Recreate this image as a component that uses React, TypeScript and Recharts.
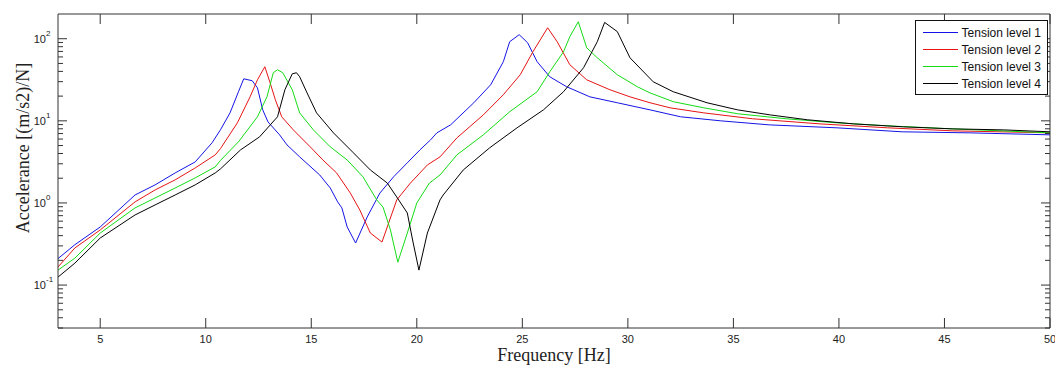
import { LineChart, Line, XAxis, YAxis, Legend, Label } from 'recharts'

const freqTicks = [5, 10, 15, 20, 25, 30, 35, 40, 45, 50]
const accelTicks = [
  0.03, 0.04, 0.05, 0.06, 0.07, 0.08, 0.09, 0.1,
  0.2, 0.3, 0.4, 0.5, 0.6, 0.7, 0.8, 0.9, 1,
  2, 3, 4, 5, 6, 7, 8, 9, 10,
  20, 30, 40, 50, 60, 70, 80, 90, 100,
]

const seriesNames = ['Tension level 1', 'Tension level 2', 'Tension level 3', 'Tension level 4']
const seriesColors = ['#1414e6', '#e61414', '#14dc14', '#000000']

// tension level 1
const freq1 = [3.0, 3.8, 5.0, 6.65, 7.6, 8.55, 9.5, 10.3, 10.7, 11.15, 11.55, 11.8, 12.2, 12.45, 12.7, 12.95, 13.5, 13.85, 14.45, 15.4, 15.9, 16.25, 16.45, 16.7, 17.1, 17.65, 18.25, 18.9, 19.55, 20.15, 20.65, 20.95, 21.6, 22.7, 23.5, 24.1, 24.4, 24.85, 25.25, 25.7, 26.3, 27.1, 28.2, 29.5, 31.05, 32.5, 34.4, 36.7, 39.9, 43.0, 46.2, 50]
const accel1 = [0.21, 0.31, 0.51, 1.25, 1.66, 2.32, 3.16, 5.4, 7.8, 12.5, 22.6, 32.5, 30.8, 25.2, 13.6, 9.7, 6.74, 5.09, 3.64, 2.19, 1.52, 1.03, 0.87, 0.51, 0.325, 0.675, 1.32, 2.08, 3.08, 4.43, 5.86, 7.14, 8.93, 16.6, 27.5, 52.5, 91.9, 112, 89.3, 52.5, 34.4, 26.0, 19.6, 16.6, 13.6, 11.2, 10.0, 8.93, 8.22, 7.35, 7.14, 6.75]

// tension level 2
const freq2 = [3.0, 3.8, 5.0, 6.65, 7.6, 8.55, 9.5, 10.45, 10.7, 11.5, 12.1, 12.45, 12.8, 13.05, 13.3, 13.6, 14.15, 14.95, 15.55, 16.2, 16.85, 17.3, 17.8, 18.35, 18.6, 19.05, 19.7, 20.5, 21.1, 21.9, 23.15, 24.1, 24.9, 25.5, 26.2, 26.65, 27.25, 28.05, 29.15, 30.1, 31.05, 32.0, 33.6, 35.9, 39.1, 42.3, 45.4, 50]
const accel2 = [0.166, 0.283, 0.469, 1.03, 1.44, 1.91, 2.67, 3.85, 4.6, 9.46, 19.6, 31.6, 45.6, 29.0, 18.0, 11.2, 7.76, 4.82, 3.34, 2.32, 1.32, 0.82, 0.43, 0.334, 0.51, 1.09, 1.75, 2.9, 3.64, 6.2, 11.8, 20.8, 36.4, 69.3, 136, 91.9, 48.2, 31.6, 23.9, 19.6, 16.6, 14.4, 12.5, 10.6, 9.18, 8.22, 7.55, 7.14]

// tension level 3
const freq3 = [3.0, 3.8, 5.0, 6.65, 7.6, 8.55, 9.5, 10.45, 10.7, 11.55, 12.45, 12.9, 13.2, 13.4, 13.65, 14.1, 14.45, 15.1, 15.9, 16.7, 17.45, 18.1, 18.4, 18.75, 19.1, 19.55, 20.0, 20.6, 21.1, 21.9, 23.15, 24.4, 25.7, 26.3, 26.95, 27.25, 27.65, 28.05, 28.55, 29.5, 30.45, 31.05, 32.15, 33.6, 35.2, 37.5, 39.9, 42.3, 45.4, 50]
const accel3 = [0.152, 0.213, 0.43, 0.87, 1.15, 1.52, 2.02, 2.75, 3.3, 5.55, 11.2, 19.6, 38.5, 41.9, 38.5, 23.9, 12.5, 7.76, 4.82, 3.34, 2.08, 1.09, 0.89, 0.469, 0.19, 0.43, 1.0, 1.75, 2.19, 3.85, 6.74, 12.9, 22.6, 39.6, 69.3, 106, 161, 77.6, 58.6, 36.4, 26.0, 21.9, 17.1, 14.4, 12.2, 10.6, 9.46, 8.69, 7.98, 7.14]

// tension level 4
const freq4 = [3.0, 3.8, 5.0, 6.65, 7.6, 8.55, 9.5, 10.45, 10.7, 11.65, 12.55, 13.4, 13.75, 14.1, 14.3, 14.45, 14.8, 15.25, 16.05, 17.0, 17.8, 18.6, 19.05, 19.55, 19.8, 20.1, 20.5, 21.1, 21.25, 22.2, 23.45, 24.75, 26.0, 26.95, 27.9, 28.55, 28.9, 29.5, 30.1, 31.2, 32.15, 33.75, 35.2, 36.75, 38.5, 40.7, 43.05, 45.4, 47.8, 50]
const accel4 = [0.125, 0.185, 0.374, 0.714, 0.946, 1.25, 1.66, 2.32, 2.6, 4.43, 6.38, 11.2, 23.9, 37.4, 38.5, 34.4, 21.9, 12.5, 7.14, 4.07, 2.52, 1.75, 1.18, 0.755, 0.354, 0.152, 0.43, 1.09, 1.25, 2.52, 4.69, 8.22, 13.6, 22.6, 44.3, 91.9, 158, 122, 58.6, 29.9, 22.6, 16.6, 13.6, 11.8, 10.3, 9.18, 8.45, 7.98, 7.76, 7.35]

const toPoints = (f: number[], a: number[]) => f.map((v, i) => ({ f: v, a: a[i] }))
const series = [
  toPoints(freq1, accel1),
  toPoints(freq2, accel2),
  toPoints(freq3, accel3),
  toPoints(freq4, accel4),
]

const axisColor = '#333'
const sans = '"Liberation Sans", Arial, sans-serif'
const serif = '"Liberation Serif", "Times New Roman", serif'

function isDecade(v: number) {
  const e = Math.log10(v)
  return Math.abs(e - Math.round(e)) < 1e-6
}

function LeftTick({ x, y, payload }: any) {
  const v = payload.value
  if (!isDecade(v)) {
    return <line x1={x} x2={x + 5} y1={y} y2={y} stroke={axisColor} />
  }
  const exp = Math.round(Math.log10(v))
  return (
    <g>
      <line x1={x} x2={x + 9} y1={y} y2={y} stroke={axisColor} />
      <text x={x - 12} y={y + 4} textAnchor="end" fontSize={11} fontFamily={sans} fill="#222">10</text>
      <text x={x - 12} y={y - 3} textAnchor="start" fontSize={8} fontFamily={sans} fill="#222">{exp}</text>
    </g>
  )
}

function RightTick({ x, y, payload }: any) {
  const len = isDecade(payload.value) ? 9 : 5
  return <line x1={x} x2={x - len} y1={y} y2={y} stroke={axisColor} />
}

function BottomTick({ x, y, payload }: any) {
  return (
    <g>
      <line x1={x} x2={x} y1={y} y2={y - 10} stroke={axisColor} />
      <text x={x} y={y + 15} textAnchor="middle" fontSize={11} fontFamily={sans} fill="#222">
        {payload.value}
      </text>
    </g>
  )
}

function TopTick({ x, y }: any) {
  return <line x1={x} x2={x} y1={y} y2={y + 10} stroke={axisColor} />
}

function LegendBox({ payload }: any) {
  return (
    <div
      style={{
        border: '1px solid #111',
        background: '#fff',
        padding: '3px 6px 2px 7px',
        fontFamily: sans,
        fontSize: 12,
        color: '#111',
      }}
    >
      {(payload || []).map((p: any) => (
        <div key={p.value} style={{ display: 'flex', alignItems: 'center', height: 17 }}>
          <span style={{ display: 'inline-block', width: 37, height: 0, borderTop: `1px solid ${p.color}`, marginRight: 4 }} />
          <span style={{ whiteSpace: 'nowrap' }}>{p.value}</span>
        </div>
      ))}
    </div>
  )
}

export default function App() {
  return (
    <div style={{ position: 'absolute', left: 0, top: 0, background: '#fff' }}>
      <LineChart width={1055} height={367} margin={{ top: 13, right: 4, bottom: 38, left: 0 }}>
        <XAxis
          xAxisId="bottom"
          dataKey="f"
          type="number"
          domain={[3, 50]}
          allowDataOverflow
          ticks={freqTicks}
          interval={0}
          height={1}
          tickSize={0}
          tickMargin={0}
          tick={<BottomTick />}
          axisLine={{ stroke: axisColor }}
          tickLine={false}
        >
          <Label
            content={({ viewBox }: any) => (
              <text x={viewBox.x + viewBox.width / 2} y={viewBox.y + 33} textAnchor="middle" fontSize={18} fontFamily={serif} fill="#222">
                Frequency [Hz]
              </text>
            )}
          />
        </XAxis>
        <XAxis
          xAxisId="top"
          orientation="top"
          dataKey="f"
          type="number"
          domain={[3, 50]}
          allowDataOverflow
          ticks={freqTicks}
          interval={0}
          height={1}
          tickSize={0}
          tickMargin={0}
          tick={<TopTick />}
          axisLine={{ stroke: axisColor }}
          tickLine={false}
        />
        <YAxis
          yAxisId="left"
          type="number"
          scale="log"
          domain={[0.03, 200]}
          allowDataOverflow
          ticks={accelTicks}
          interval={0}
          width={58}
          tickSize={0}
          tickMargin={0}
          tick={<LeftTick />}
          axisLine={{ stroke: axisColor }}
          tickLine={false}
        >
          <Label
            content={({ viewBox }: any) => {
              const cx = viewBox.x + 29
              const cy = viewBox.y + viewBox.height / 2 - 23
              return (
                <text x={cx} y={cy} transform={`rotate(-90 ${cx} ${cy})`} textAnchor="middle" fontSize={18} fontFamily={serif} fill="#222">
                  Accelerance [(m/s2)/N]
                </text>
              )
            }}
          />
        </YAxis>
        <YAxis
          yAxisId="right"
          orientation="right"
          type="number"
          scale="log"
          domain={[0.03, 200]}
          allowDataOverflow
          ticks={accelTicks}
          interval={0}
          width={1}
          tickSize={0}
          tickMargin={0}
          tick={<RightTick />}
          axisLine={{ stroke: axisColor }}
          tickLine={false}
        />
        <Legend
          layout="vertical"
          align="center"
          verticalAlign="middle"
          content={<LegendBox />}
          wrapperStyle={{ position: 'absolute', left: 915, top: 20, width: 133 }}
        />
        {series.map((data, i) => (
          <Line
            key={seriesNames[i]}
            xAxisId="bottom"
            yAxisId="left"
            data={data}
            dataKey="a"
            name={seriesNames[i]}
            type="linear"
            stroke={seriesColors[i]}
            strokeWidth={1}
            dot={false}
            activeDot={false}
            isAnimationActive={false}
          />
        ))}
      </LineChart>
    </div>
  )
}
